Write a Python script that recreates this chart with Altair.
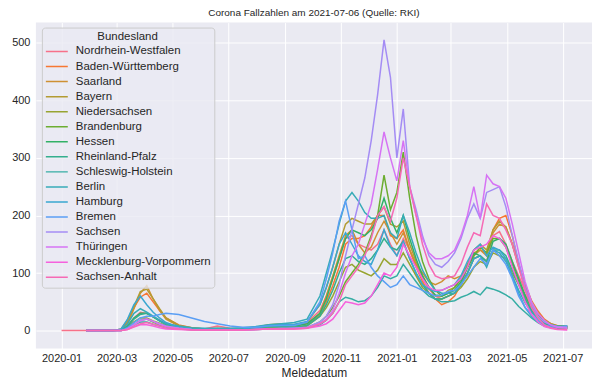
import math
import altair as alt
import pandas as pd

states = ["Nordrhein-Westfalen", "Baden-Württemberg", "Saarland", "Bayern",
          "Niedersachsen", "Brandenburg", "Hessen", "Rheinland-Pfalz",
          "Schleswig-Holstein", "Berlin", "Hamburg", "Bremen", "Sachsen",
          "Thüringen", "Mecklenburg-Vorpommern", "Sachsen-Anhalt"]

dates = ["2020-01-01", "2020-01-28", "2020-02-26",
         "2020-03-06", "2020-03-13", "2020-03-20", "2020-03-27", "2020-04-03", "2020-04-10", "2020-04-17", "2020-04-24",
         "2020-05-08", "2020-05-22", "2020-06-05", "2020-06-19", "2020-07-03", "2020-07-17", "2020-07-31", "2020-08-14", "2020-08-28", "2020-09-11", "2020-09-25",
         "2020-10-09", "2020-10-16", "2020-10-23", "2020-10-30", "2020-11-06", "2020-11-13", "2020-11-20", "2020-11-27", "2020-12-04", "2020-12-11", "2020-12-18", "2020-12-25",
         "2021-01-01", "2021-01-08", "2021-01-15", "2021-01-22", "2021-01-29", "2021-02-05", "2021-02-12", "2021-02-19", "2021-02-26",
         "2021-03-05", "2021-03-12", "2021-03-19", "2021-03-26", "2021-04-02", "2021-04-09", "2021-04-16", "2021-04-23", "2021-04-30",
         "2021-05-07", "2021-05-14", "2021-05-21", "2021-05-28", "2021-06-04", "2021-06-11", "2021-06-18", "2021-06-25", "2021-07-06"]

nrw = [0, 0, 0,
       1, 8, 22, 32, 30, 24, 18, 12,
       7, 4, 3, 8, 4, 3, 5, 8, 9, 10, 14,
       35, 60, 90, 125, 160, 165, 150, 145, 140, 150, 175, 150,
       130, 160, 140, 115, 90, 72, 60, 55, 60,
       65, 80, 100, 125, 130, 120, 165, 172, 150,
       120, 95, 70, 45, 28, 16, 10, 7, 6]
bw = [None, 0, 0,
      2, 15, 40, 58, 65, 50, 35, 22,
      10, 5, 3, 3, 2, 3, 4, 8, 9, 8, 12,
      28, 50, 78, 110, 150, 160, 160, 165, 180, 200, 200, 165,
      160, 175, 140, 110, 85, 65, 55, 45, 50,
      60, 80, 110, 135, 140, 135, 175, 195, 200,
      165, 115, 80, 52, 34, 20, 12, 9, 7]
saarland = [None, 0, 0,
            1, 12, 38, 65, 78, 55, 35, 20,
            8, 4, 2, 2, 2, 2, 3, 7, 6, 5, 9,
            30, 60, 95, 130, 165, 175, 150, 135, 145, 170, 190, 170,
            150, 170, 140, 115, 100, 85, 80, 85, 95,
            90, 95, 110, 130, 140, 130, 170, 185, 180,
            150, 110, 75, 45, 28, 15, 9, 7, 6]
bayern = [None, 0, 0,
          3, 18, 42, 68, 72, 55, 38, 22,
          9, 5, 3, 3, 3, 4, 6, 10, 12, 10, 15,
          45, 75, 110, 150, 185, 195, 190, 185, 185, 200, 215, 185,
          180, 190, 150, 120, 95, 75, 60, 60, 70,
          75, 90, 115, 140, 150, 140, 175, 190, 180,
          150, 115, 80, 50, 30, 18, 12, 8, 7]
nds = [None, 0, 0,
       1, 6, 15, 22, 22, 17, 13, 9,
       5, 3, 2, 4, 3, 2, 4, 5, 5, 5, 8,
       25, 40, 60, 85, 110, 115, 105, 100, 95, 105, 125, 115,
       115, 135, 115, 95, 75, 65, 55, 55, 60,
       65, 75, 90, 110, 120, 115, 135, 130, 125,
       100, 80, 55, 35, 22, 12, 8, 5, 4]
brandenburg = [None, 0, 0,
               0, 3, 10, 18, 20, 15, 10, 6,
               3, 2, 1, 1, 1, 1, 2, 3, 4, 4, 5,
               15, 25, 40, 60, 85, 100, 115, 135, 165, 200, 270, 210,
               240, 310, 230, 165, 120, 90, 70, 60, 65,
               75, 90, 110, 130, 145, 135, 160, 160, 145,
               115, 85, 60, 40, 25, 13, 8, 5, 4]
hessen = [None, 0, 0,
          1, 8, 22, 30, 30, 24, 17, 11,
          6, 3, 2, 2, 2, 3, 5, 8, 8, 8, 12,
          30, 55, 90, 125, 160, 175, 170, 165, 175, 195, 230, 195,
          170, 200, 160, 125, 95, 75, 62, 60, 65,
          70, 85, 110, 135, 130, 120, 155, 160, 150,
          120, 90, 62, 40, 25, 15, 10, 8, 7]
rlp = [None, 0, 0,
       1, 7, 20, 28, 30, 24, 17, 11,
       6, 3, 2, 2, 2, 2, 4, 7, 7, 6, 9,
       25, 45, 70, 100, 125, 130, 120, 115, 125, 140, 160, 145,
       140, 155, 125, 100, 80, 65, 55, 55, 60,
       65, 80, 100, 125, 130, 120, 140, 140, 130,
       105, 80, 55, 35, 22, 13, 8, 6, 5]
sh = [None, 0, 0,
      0, 4, 10, 15, 15, 11, 8, 5,
      3, 2, 1, 1, 1, 2, 3, 4, 4, 4, 5,
      10, 18, 30, 50, 58, 55, 50, 52, 60, 75, 95, 90,
      95, 115, 100, 85, 70, 60, 55, 50, 50,
      52, 58, 62, 68, 62, 75, 72, 68, 62,
      55, 42, 32, 22, 14, 8, 5, 4, 4]
berlin = [None, 0, 0,
          2, 12, 30, 38, 32, 25, 18, 12,
          8, 5, 4, 4, 4, 5, 7, 10, 12, 14, 20,
          60, 100, 140, 185, 225, 240, 225, 205, 195, 195, 200, 170,
          160, 200, 170, 135, 105, 85, 70, 65, 65,
          65, 80, 100, 125, 130, 110, 140, 135, 120,
          95, 70, 48, 32, 22, 15, 10, 8, 7]
hamburg = [None, 0, 0,
           3, 20, 45, 60, 45, 32, 22, 14,
           6, 3, 2, 2, 2, 3, 6, 9, 10, 11, 16,
           45, 75, 110, 150, 170, 150, 130, 120, 115, 140, 175, 145,
           130, 155, 125, 100, 80, 72, 68, 70, 75,
           80, 95, 120, 140, 150, 130, 145, 140, 125,
           95, 65, 40, 25, 15, 9, 7, 6, 8]
bremen = [None, 0, 0,
          0, 5, 14, 22, 25, 25, 28, 30,
          28, 22, 16, 12, 8, 6, 6, 8, 9, 9, 15,
          50, 90, 135, 190, 225, 175, 125, 130, 110, 95, 85, 75,
          80, 95, 80, 75, 70, 65, 60, 62, 68,
          70, 80, 95, 110, 125, 115, 140, 130, 115,
          90, 60, 40, 28, 18, 10, 7, 6, 8]
sachsen = [None, 0, 0,
           0, 3, 10, 18, 20, 16, 12, 8,
           4, 2, 1, 1, 1, 1, 2, 3, 4, 4, 6,
           15, 25, 45, 80, 130, 175, 220, 265, 330, 410, 505, 440,
           300, 385, 250, 210, 165, 130, 115, 110, 120,
           135, 160, 195, 220, 195, 240, 245, 250, 215,
           165, 120, 75, 45, 25, 15, 10, 7, 6]
thueringen = [None, 0, 0,
              0, 3, 10, 17, 20, 16, 11, 7,
              4, 2, 1, 1, 1, 1, 2, 3, 3, 4, 5,
              12, 20, 35, 65, 100, 130, 150, 185, 220, 280, 345, 300,
              260, 330, 250, 200, 160, 135, 125, 125, 130,
              140, 165, 200, 250, 195, 270, 255, 250, 230,
              185, 135, 85, 50, 30, 18, 10, 6, 4]
mv = [None, 0, 0,
      0, 2, 6, 10, 10, 8, 5, 3,
      2, 1, 1, 1, 1, 1, 2, 3, 3, 3, 4,
      8, 12, 20, 35, 50, 48, 45, 48, 60, 80, 100, 95,
      110, 150, 130, 110, 90, 75, 70, 70, 75,
      80, 90, 110, 140, 145, 150, 165, 160, 145,
      110, 80, 50, 28, 15, 7, 4, 2, 1]
sachsen_anhalt = [None, 0, 0,
                  0, 2, 7, 12, 14, 11, 8, 5,
                  3, 1, 1, 1, 1, 1, 2, 3, 3, 3, 4,
                  12, 18, 30, 50, 80, 95, 110, 130, 160, 200, 215, 190,
                  230, 300, 250, 200, 150, 115, 95, 90, 92,
                  95, 115, 145, 170, 165, 220, 200, 195, 175,
                  150, 110, 70, 40, 22, 10, 5, 3, 2]

series = [nrw, bw, saarland, bayern, nds, brandenburg, hessen, rlp, sh,
          berlin, hamburg, bremen, sachsen, thueringen, mv, sachsen_anhalt]

rows = []
for name, vals in zip(states, series):
    for d, v in zip(dates, vals):
        if v is not None:
            rows.append({"Meldedatum": d, "Fallzahl": v, "Bundesland": name})
df = pd.DataFrame(rows)

# seaborn husl palette (h=.01, s=.9, l=.65)
_M = [[3.2406, -1.5372, -0.4986], [-0.9689, 1.8758, 0.0415], [0.0557, -0.2040, 1.0570]]

def _max_chroma(L, H):
    hrad = math.radians(H)
    sinH, cosH = math.sin(hrad), math.cos(hrad)
    sub1 = (L + 16) ** 3 / 1560896.0
    sub2 = sub1 if sub1 > 0.008856 else L / 903.3
    res = float("inf")
    for m1, m2, m3 in _M:
        top = (0.99915 * m1 + 1.05122 * m2 + 1.14460 * m3) * sub2
        rb = 0.86330 * m3 - 0.17266 * m2
        lb = 0.12949 * m3 - 0.38848 * m1
        bottom = (rb * sinH + lb * cosH) * sub2
        for t in (0.0, 1.0):
            C = L * (top - 1.05122 * t) / (bottom + 0.17266 * sinH * t)
            if 0.0 < C < res:
                res = C
    return res

def _husl_to_hex(h, s, l):
    C = _max_chroma(l, h) / 100.0 * s
    hr = math.radians(h)
    U, V = math.cos(hr) * C, math.sin(hr) * C
    t = (l + 16.0) / 116.0
    Y = t ** 3 if t ** 3 > 0.008856 else (116.0 * t - 16.0) / 903.3
    vu = U / (13.0 * l) + 0.19784
    vv = V / (13.0 * l) + 0.46834
    X = -(9.0 * Y * vu) / ((vu - 4.0) * vv - vu * vv)
    Z = (9.0 * Y - 15.0 * vv * Y - vv * X) / (3.0 * vv)
    out = []
    for r in _M:
        c = r[0] * X + r[1] * Y + r[2] * Z
        c = 12.92 * c if c <= 0.0031308 else 1.055 * c ** (1 / 2.4) - 0.055
        out.append(int(round(min(max(c, 0), 1) * 255)))
    return "#%02x%02x%02x" % tuple(out)

n = len(states)
colors = [_husl_to_hex(((i / n + 0.01) % 1) * 359, 0.9 * 99, 0.65 * 99) for i in range(n)]

tick_dates = [alt.DateTime(year=y, month=m, date=1, utc=True)
              for y, m in [(2020, 1), (2020, 3), (2020, 5), (2020, 7), (2020, 9),
                           (2020, 11), (2021, 1), (2021, 3), (2021, 5), (2021, 7)]]

FONT = "Liberation Sans"
TXT = "#262626"

chart = alt.Chart(df).mark_line(strokeWidth=1.5, clip=True).encode(
    x=alt.X("Meldedatum:T",
            scale=alt.Scale(type="utc",
                            domain=[alt.DateTime(year=2019, month=12, date=4, utc=True),
                                    alt.DateTime(year=2021, month=8, date=2, utc=True)]),
            axis=alt.Axis(values=tick_dates, format="%Y-%m", title="Meldedatum",
                          labelFontSize=11, titleFontSize=12, labelPadding=4, titlePadding=4)),
    y=alt.Y("Fallzahl:Q",
            scale=alt.Scale(domain=[-31, 535], nice=False, zero=False),
            axis=alt.Axis(values=[0, 100, 200, 300, 400, 500], title=None,
                          labelFontSize=11, labelPadding=6)),
    color=alt.Color("Bundesland:N", sort=states,
                    scale=alt.Scale(domain=states, range=colors),
                    legend=alt.Legend(title="Bundesland", orient="none", legendX=6, legendY=5,
                                      symbolType="stroke", symbolSize=484, symbolStrokeWidth=1.5,
                                      clipHeight=15, rowPadding=0.1, labelOffset=7,
                                      labelFontSize=11.5, titleFontSize=11.5, titleFontWeight="normal",
                                      titleAnchor="middle", titlePadding=2,
                                      padding=3, fillColor="rgba(234,234,242,0.8)", strokeColor="#cccccc",
                                      cornerRadius=3, labelColor=TXT, titleColor=TXT,
                                      labelFont=FONT, titleFont=FONT)),
).properties(
    width=558, height=327,
    title=alt.TitleParams("Corona Fallzahlen am 2021-07-06 (Quelle: RKI)", fontSize=10,
                          font=FONT, fontWeight="normal", color=TXT, anchor="middle", offset=5),
    autosize=alt.AutoSizeParams(type="none"),
    padding={"left": 28, "top": 14, "right": 0, "bottom": 30},
).configure_view(
    fill="#EAEAF2", stroke=None
).configure_axis(
    grid=True, gridColor="white", gridWidth=1, domain=False, ticks=False,
    labelFont=FONT, titleFont=FONT, labelColor=TXT, titleColor=TXT, titleFontWeight="normal"
)

chart.save("out.html", embed_options={"renderer": "svg", "actions": False})
